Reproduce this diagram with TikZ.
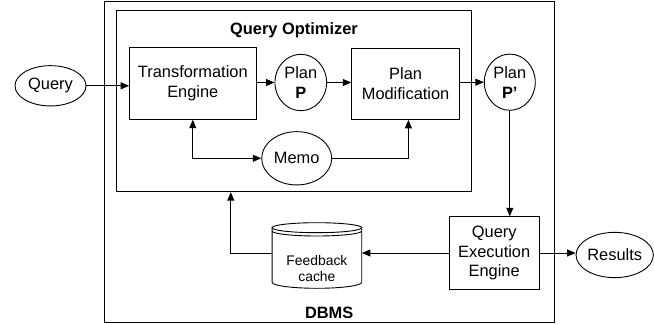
\documentclass[tikz,border=0pt]{standalone}
\usepackage{fontspec}
\setmainfont{Liberation Sans}
\usetikzlibrary{arrows.meta,shapes.geometric,calc}
\begin{document}
\begin{tikzpicture}[x=1pt,y=-1pt,
  every node/.style={inner sep=0pt,font=\fontsize{16.4}{19.8}\selectfont},
  box/.style={draw,line width=0.9pt,align=center},
  oval/.style={draw,ellipse,line width=0.9pt,align=center},
  conn/.style={line width=0.9pt,-{Triangle[length=8.5pt,width=7pt]}},
  conn2/.style={line width=0.9pt,{Triangle[length=8.5pt,width=7pt]}-{Triangle[length=8.5pt,width=7pt]}},
  plain/.style={line width=0.9pt}]
\useasboundingbox (0,0) rectangle (654,324);
% containers
\node[box,minimum width=449.9pt,minimum height=320.3pt] (dbms) at (329.35,161.85) {};
\node[box,minimum width=355pt,minimum height=181pt] (qo) at (294.2,101.2) {};
\node[font=\fontsize{16.4}{19.8}\selectfont\bfseries] (qot) at (294,30.5) {Query Optimizer};
\node[font=\fontsize{16.4}{19.8}\selectfont\bfseries] (dbt) at (329.2,313.3) {DBMS};
% nodes
\node[oval,minimum width=71pt,minimum height=40.3pt] (q) at (50.5,85.8) {Query};
\node[box,minimum width=126.5pt,minimum height=71.5pt] (te) at (192.8,83.5) {Transformation\\Engine};
\node[oval,minimum width=51.7pt,minimum height=56.4pt] (pp) at (300.8,82.5) {Plan\\\textbf{P}};
\node[box,minimum width=107.8pt,minimum height=71.3pt] (pm) at (405.6,83.8) {Plan\\Modification};
\node[oval,minimum width=51pt,minimum height=56.2pt] (ppp) at (509.8,82.2) {Plan\\\textbf{P’}};
\node[oval,minimum width=70pt,minimum height=53.3pt] (memo) at (296.7,158.3) {Memo};
\node[box,minimum width=89.7pt,minimum height=72.6pt] (qee) at (494.2,253) {Query\\Execution\\Engine};
\node[oval,minimum width=70.5pt,minimum height=45.3pt] (res) at (614.7,255) {Results};
% feedback cache cylinder
\node[minimum width=89.6pt,minimum height=65.6pt] (cache) at (316.9,253) {};
\draw[plain] (272.1,227.7) -- (272.1,282.3)
  arc[start angle=180,end angle=360,x radius=44.8pt,y radius=6pt] -- (361.7,227.7);
\draw[plain,fill=white] (316.9,227.7) ellipse [x radius=44.8pt,y radius=5pt];
\draw[plain] (272.1,231) arc[start angle=180,end angle=360,x radius=44.8pt,y radius=5pt];
\node[font=\fontsize{13.9}{16.7}\selectfont,align=center] (cachet) at (316.9,268.5) {Feedback\\cache};
% connectors
\draw[conn] (q) -- (q -| te.west);
\draw[conn] (te.east |- pp) -- (pp);
\draw[conn] (pp) -- (pp -| pm.west);
\draw[conn] (pm.east |- ppp) -- (ppp);
\draw[conn2] (te.south) |- (memo.west);
\draw[conn] (memo.east) -| ([xshift=2.8pt]pm.south);
\draw[conn] (ppp.south) -- (ppp.south |- qee.north);
\draw[conn] (qee.east) -- (qee.east -| res.west);
\draw[conn] (qee.west) -- (qee.west -| cache.east);
\draw[conn] (cache.west) -| ([xshift=-63.4pt]qo.south);
\end{tikzpicture}
\end{document}
